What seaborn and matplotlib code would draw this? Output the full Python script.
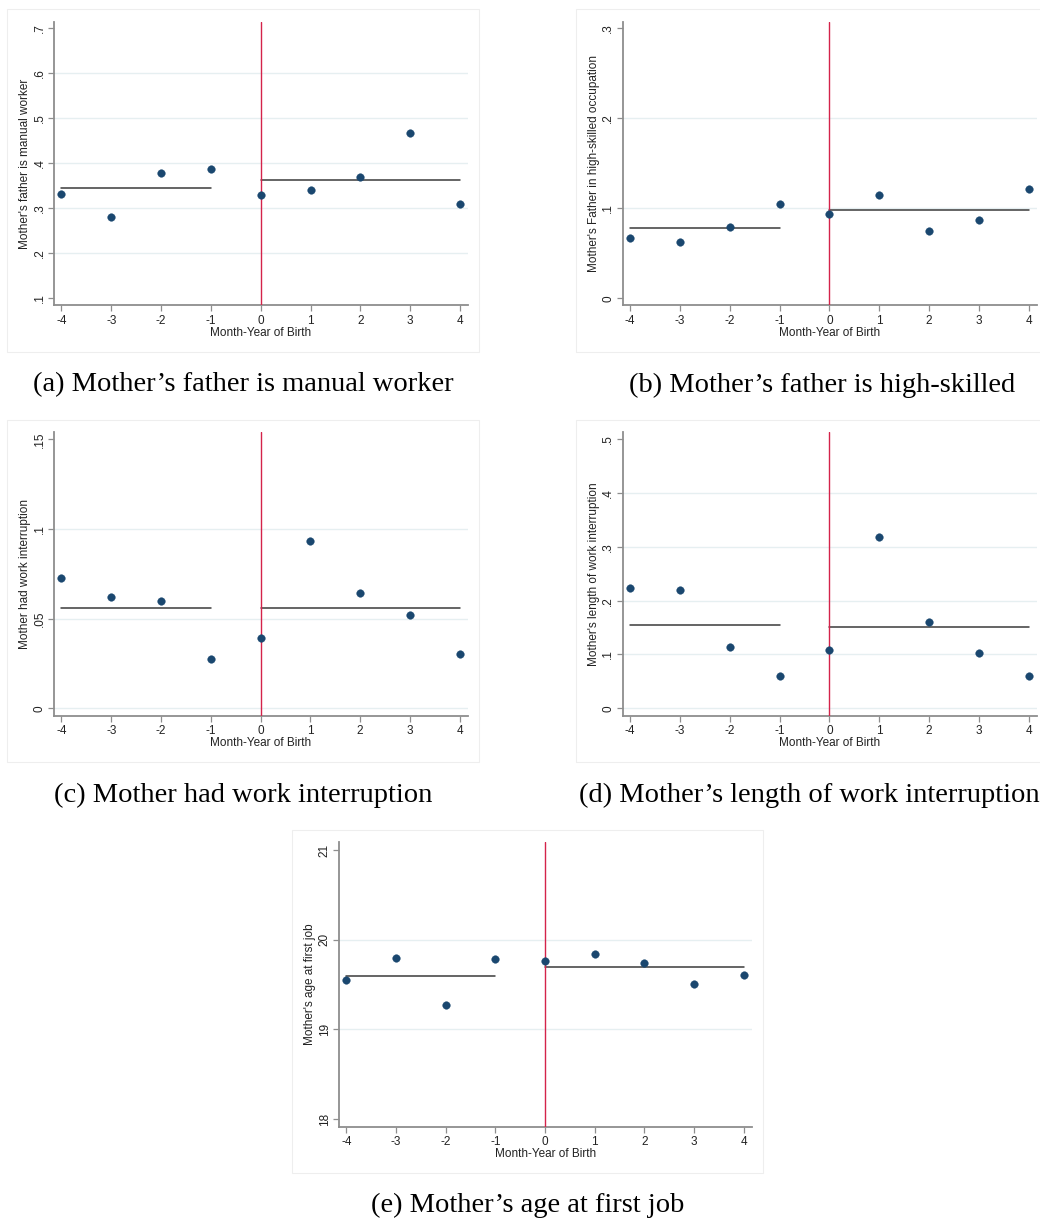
import numpy as np
import pandas as pd
import matplotlib
matplotlib.use("Agg")
import matplotlib.pyplot as plt
from matplotlib.patches import Rectangle
import seaborn as sns

# Running variable: month-year of birth relative to the cutoff
months = [-4, -3, -2, -1, 0, 1, 2, 3, 4]

# Bin means for each outcome
father_manual = [0.332, 0.281, 0.378, 0.387, 0.330, 0.340, 0.370, 0.468, 0.309]
father_highskill = [0.067, 0.063, 0.079, 0.105, 0.094, 0.115, 0.075, 0.087, 0.121]
work_interrupt = [0.0729, 0.0623, 0.0597, 0.0275, 0.0392, 0.0931, 0.0643, 0.0519, 0.0303]
interrupt_length = [0.224, 0.219, 0.114, 0.0607, 0.108, 0.318, 0.161, 0.1035, 0.0607]
age_first_job = [19.55, 19.795, 19.275, 19.784, 19.762, 19.836, 19.743, 19.509, 19.602]

# Fitted levels on each side of the cutoff (left, right)
fit_manual = [0.344, 0.362]
fit_highskill = [0.078, 0.098]
fit_interrupt = [0.0559, 0.0561]
fit_length = [0.1543, 0.1518]
fit_age = [19.598, 19.695]

# Y-axis labels and tick labels
ylabels = [
    "Mother's father is manual worker",
    "Mother's Father in high-skilled occupation",
    "Mother had work interruption",
    "Mother's length of work interruption",
    "Mother's age at first job",
]
yticks = [
    [0.1, 0.2, 0.3, 0.4, 0.5, 0.6, 0.7],
    [0.0, 0.1, 0.2, 0.3],
    [0.0, 0.05, 0.1, 0.15],
    [0.0, 0.1, 0.2, 0.3, 0.4, 0.5],
    [18, 19, 20, 21],
]
ytick_text = [
    [".1", ".2", ".3", ".4", ".5", ".6", ".7"],
    ["0", ".1", ".2", ".3"],
    ["0", ".05", ".1", ".15"],
    ["0", ".1", ".2", ".3", ".4", ".5"],
    ["18", "19", "20", "21"],
]
captions = [
    "(a) Mother\u2019s father is manual worker",
    "(b) Mother\u2019s father is high-skilled",
    "(c) Mother had work interruption",
    "(d) Mother\u2019s length of work interruption",
    "(e) Mother\u2019s age at first job",
]
xlabel = "Month-Year of Birth"

series = [father_manual, father_highskill, work_interrupt, interrupt_length, age_first_job]
fits = [fit_manual, fit_highskill, fit_interrupt, fit_length, fit_age]

sns.set_theme(style="white")
plt.rcParams["font.family"] = ["Liberation Sans", "DejaVu Sans"]

W, H = 1040, 1220
fig = plt.figure(figsize=(W / 100, H / 100), dpi=100)
fig.patch.set_facecolor("white")

# Pixel layout: axes box (left, right, top, bottom), outer frame, caption centre
layout = [
    dict(ax=(54, 468, 22, 305), frame=(7, 479, 9, 352), cap=(243, 385),
         ylim=(0.085, 0.714), grid_skip=(0.1, 0.7)),
    dict(ax=(622.7, 1036.7, 21.7, 305), frame=(576, 1046, 9, 352), cap=(822, 385),
         ylim=(-0.0074, 0.3073), grid_skip=(0.0, 0.3)),
    dict(ax=(54, 467.7, 432.3, 715.7), frame=(7, 479, 420, 762), cap=(243, 795),
         ylim=(-0.0041, 0.1539), grid_skip=(0.15,)),
    dict(ax=(622.7, 1036.7, 432.3, 715.7), frame=(576, 1046, 420, 762), cap=(809, 795),
         ylim=(-0.0138, 0.513), grid_skip=(0.5,)),
    dict(ax=(339, 751.7, 842.3, 1126.7), frame=(292, 763, 830, 1173), cap=(528, 1205),
         ylim=(17.914, 21.086), grid_skip=(18, 21)),
]

navy = "#1a476f"
red = "#d4234a"
fitc = "#3a3a3a"
gridc = "#e6eff1"
spinec = "#8e8e8e"

for i, lay in enumerate(layout):
    l, r, t, b = lay["ax"]
    # faint outer frame around each panel
    fl, fr, ft, fb = lay["frame"]
    fig.patches.append(Rectangle((fl / W, 1 - fb / H), (fr - fl) / W, (fb - ft) / H,
                                 transform=fig.transFigure, fill=False,
                                 edgecolor="#eeeeee", linewidth=0.8, zorder=0))
    ax = fig.add_axes([l / W, 1 - b / H, (r - l) / W, (b - t) / H])
    ax.set_facecolor("white")

    df = pd.DataFrame({"month": months, "value": series[i]})
    left_fit = pd.DataFrame({"month": [-4, -1], "value": [fits[i][0]] * 2})
    right_fit = pd.DataFrame({"month": [0, 4], "value": [fits[i][1]] * 2})

    # horizontal grid at interior ticks
    for yv in yticks[i]:
        if any(abs(yv - s) < 1e-9 for s in lay["grid_skip"]):
            continue
        ax.axhline(yv, color=gridc, linewidth=1.0, zorder=0)

    sns.lineplot(data=left_fit, x="month", y="value", ax=ax, color=fitc,
                 linewidth=1.1, zorder=2)
    sns.lineplot(data=right_fit, x="month", y="value", ax=ax, color=fitc,
                 linewidth=1.1, zorder=2)
    ax.axvline(0, color=red, linewidth=1.0, zorder=3)
    sns.scatterplot(data=df, x="month", y="value", ax=ax, color=navy, s=30,
                    edgecolor=navy, linewidth=0.3, zorder=4)

    ax.set_xlim(-4.15, 4.16)
    ax.set_ylim(*lay["ylim"])
    ax.set_xticks(months)
    ax.set_xticklabels([str(m) for m in months])
    ax.set_yticks(yticks[i])
    ax.set_yticklabels(ytick_text[i], rotation=90, va="center")

    for side in ("top", "right"):
        ax.spines[side].set_visible(False)
    for side in ("left", "bottom"):
        ax.spines[side].set_color(spinec)
        ax.spines[side].set_linewidth(1.3)
    ax.tick_params(axis="both", which="major", direction="out", length=4,
                   width=0.9, color=spinec, labelsize=8.5, labelcolor="#222222",
                   left=True, bottom=True, pad=3)
    ax.tick_params(axis="y", pad=2)
    ax.set_xlabel(xlabel, fontsize=8.5, color="#222222", labelpad=0)
    ax.set_ylabel(ylabels[i], fontsize=8.5, color="#222222", labelpad=2)

    cx, cy = lay["cap"]
    fig.text(cx / W, 1 - cy / H, captions[i], ha="center", va="center",
             fontsize=20.5, family=["Liberation Serif", "DejaVu Serif"], color="black")

fig.savefig("out.png", dpi=100, facecolor="white")
